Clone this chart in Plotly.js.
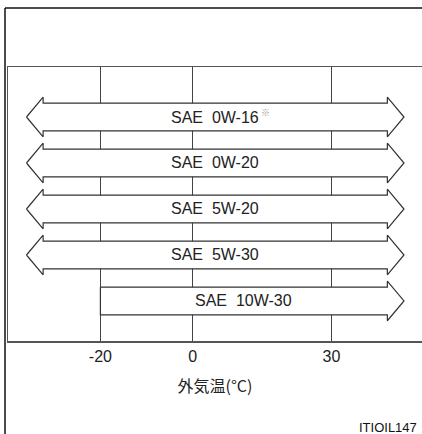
<!DOCTYPE html>
<html>
<head>
<meta charset="utf-8">
<script src="https://cdn.plot.ly/plotly-3.0.1.min.js"></script>
<style>
  html, body { margin: 0; padding: 0; background: #fff; }
  #chart { width: 422px; height: 434px; }
</style>
</head>
<body>
<div id="chart"></div>
<script>
// oil grades, top to bottom
let grades = ["SAE\u00a0\u00a00W-16", "SAE\u00a0\u00a00W-20", "SAE\u00a0\u00a05W-20", "SAE\u00a0\u00a05W-30", "SAE\u00a0\u00a010W-30"]
let gradeMarks = ["※", "", "", "", ""]
// usable outside temperature in °C, null = open ended (arrow)
let tempLow = [null, null, null, null, -20]
let tempHigh = [null, null, null, null, null]
let tickTemps = [-20, 0, 30]
let axisTitle = "外気温(°C)"
let figCode = "ITIOIL147"

// drawing constants
let xMin = -40, xMax = 49.6
let openLeft = -36, openRight = 45.7   // where an open arrow tip sits
let headLen = 3.6                       // arrow head length (°C)
let shaftHalf = 0.30, headHalf = 0.43   // in row units
let lineCol = "#333"
let labelFont = {family: "Liberation Sans, Arial, sans-serif", size: 16, color: "#222"}

let traces = []
let annotations = []

for (let i = 0; i < grades.length; i++){
	let y = i
	let L = (tempLow[i] == null) ? openLeft : tempLow[i]
	let R = (tempHigh[i] == null) ? openRight : tempHigh[i]
	let Lb = (tempLow[i] == null) ? L + headLen : L
	let Rb = (tempHigh[i] == null) ? R - headLen : R
	let xs = [], ys = []
	// left end
	if (tempLow[i] == null){
		xs.push(L, Lb, Lb); ys.push(y, y - headHalf, y - shaftHalf)
	} else {
		xs.push(L); ys.push(y - shaftHalf)
	}
	// right end
	if (tempHigh[i] == null){
		xs.push(Rb, Rb, R, Rb, Rb); ys.push(y - shaftHalf, y - headHalf, y, y + headHalf, y + shaftHalf)
	} else {
		xs.push(R, R); ys.push(y - shaftHalf, y + shaftHalf)
	}
	// back along the bottom
	if (tempLow[i] == null){
		xs.push(Lb, Lb, L); ys.push(y + shaftHalf, y + headHalf, y)
	} else {
		xs.push(L, L); ys.push(y + shaftHalf, y - shaftHalf)
	}

	traces.push({
		x: xs,
		y: ys,
		mode: "lines",
		fill: "toself",
		fillcolor: "#ffffff",
		line: {color: lineCol, width: 1.2},
		hoverinfo: "skip",
		showlegend: false
	})

	// label sits in the middle of the shaft
	let cx = (Lb + Rb) / 2
	annotations.push({
		x: cx, y: y,
		xref: "x", yref: "y",
		text: grades[i],
		showarrow: false,
		xanchor: "center", yanchor: "middle",
		font: labelFont
	})
	// footnote mark, small and raised behind the label
	if (gradeMarks[i]){
		annotations.push({
			x: cx, y: y,
			xref: "x", yref: "y",
			text: gradeMarks[i],
			showarrow: false,
			xanchor: "left", yanchor: "middle",
			xshift: 44, yshift: 5,
			font: {family: "Noto Sans CJK JP, sans-serif", size: 9, color: "#999"}
		})
	}
}

// pixel helpers for the outer frame (plot area 8..422 x 67..341)
let W = 422, H = 434
let mL = 8, mR = 0, mT = 67, mB = 93
function px(x){ return (x - mL) / (W - mL - mR) }
function py(y){ return (H - mB - y) / (H - mT - mB) }

annotations.push({
	x: px(419), y: py(427),
	xref: "paper", yref: "paper",
	text: figCode,
	showarrow: false,
	xanchor: "right", yanchor: "middle",
	font: {family: "Liberation Sans, Arial, sans-serif", size: 13, color: "#111"}
})

let shapes = [
	{type: "line", xref: "paper", yref: "paper", x0: px(5), y0: py(8), x1: px(W + 2), y1: py(8), line: {color: "#111", width: 1.5}},
	{type: "line", xref: "paper", yref: "paper", x0: px(5), y0: py(8), x1: px(5), y1: py(H + 2), line: {color: "#111", width: 1.5}}
]

let layout = {
	width: W,
	height: H,
	margin: {l: mL, r: mR, t: mT, b: mB, pad: 0},
	paper_bgcolor: "#ffffff",
	plot_bgcolor: "#ffffff",
	showlegend: false,
	xaxis: {
		range: [xMin, xMax],
		tickvals: tickTemps,
		ticktext: tickTemps.map(String),
		ticks: "",
		showgrid: true,
		gridcolor: "#444",
		gridwidth: 1,
		zeroline: false,
		showline: true,
		mirror: true,
		linecolor: "#555",
		linewidth: 1.5,
		tickfont: {family: "Liberation Sans, Arial, sans-serif", size: 16, color: "#222"},
		title: {
			text: axisTitle,
			standoff: 17,
			font: {family: "Noto Sans CJK JP, sans-serif", size: 16, color: "#222"}
		},
		fixedrange: true
	},
	yaxis: {
		range: [4.87, -1.087],
		showgrid: false,
		zeroline: false,
		showticklabels: false,
		ticks: "",
		showline: true,
		linecolor: "#555",
		linewidth: 1.5,
		fixedrange: true
	},
	shapes: shapes,
	annotations: annotations
}

Plotly.newPlot("chart", traces, layout, {displayModeBar: false, staticPlot: true})
</script>
</body>
</html>
